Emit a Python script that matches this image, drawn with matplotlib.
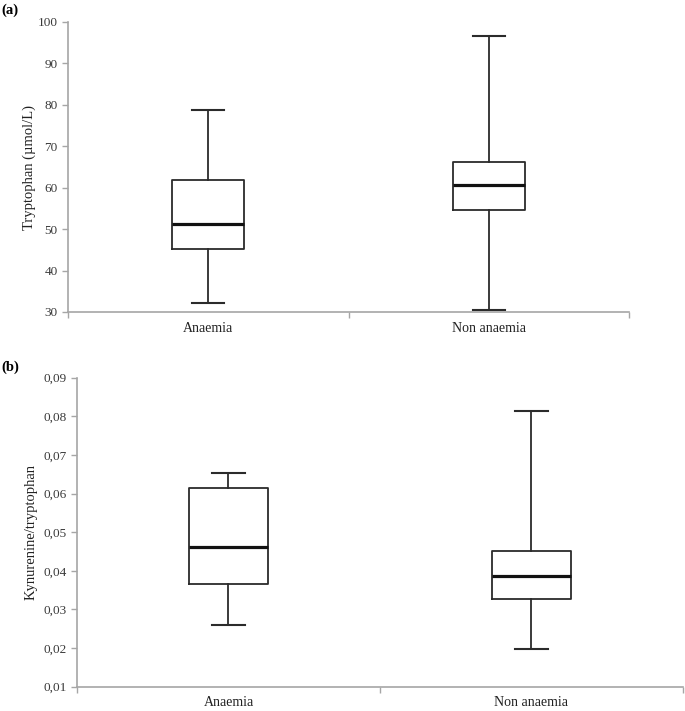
import matplotlib
matplotlib.use("Agg")
import matplotlib.pyplot as plt
from matplotlib.ticker import FixedLocator

plt.rcParams['font.family'] = ['Liberation Serif', 'DejaVu Serif']

categories = ["Anaemia", "Non anaemia"]

# Panel (a): Tryptophan (µmol/L)
trp_min = [32.1, 30.5]
trp_q1 = [45.1, 54.5]
trp_med = [51.3, 60.6]
trp_q3 = [61.8, 66.2]
trp_max = [78.8, 96.6]
trp_ticks = [30, 40, 50, 60, 70, 80, 90, 100]
trp_ticklabels = ["30", "40", "50", "60", "70", "80", "90", "100"]

# Panel (b): Kynurenine/tryptophan
kt_min = [0.0259, 0.0198]
kt_q1 = [0.0366, 0.0328]
kt_med = [0.0461, 0.0386]
kt_q3 = [0.0614, 0.0452]
kt_max = [0.0653, 0.0814]
kt_ticks = [0.01, 0.02, 0.03, 0.04, 0.05, 0.06, 0.07, 0.08, 0.09]
kt_ticklabels = ["0,01", "0,02", "0,03", "0,04", "0,05", "0,06", "0,07", "0,08", "0,09"]

W, H = 685, 711
fig = plt.figure(figsize=(W / 100, H / 100), dpi=100)

def px_axes(left, top, right, bottom):
    return fig.add_axes([left / W, 1 - bottom / H, (right - left) / W, (bottom - top) / H])

ax_a = px_axes(68, 22, 629, 312)
ax_b = px_axes(77, 377.7, 683, 686.7)

line_col = "#2b2b2b"
spine_col = "#a6a6a6"
text_col = "#3a3a3a"

def draw(ax, mins, q1s, meds, q3s, maxs, ticks, ticklabels, ylabel, ylim, boxw, capw, lpad):
    stats = []
    for i, c in enumerate(categories):
        stats.append(dict(label=c, whislo=mins[i], q1=q1s[i], med=meds[i],
                          q3=q3s[i], whishi=maxs[i], fliers=[]))
    ax.bxp(stats, positions=[0, 1], widths=boxw, showfliers=False,
           capwidths=capw,
           boxprops=dict(color=line_col, linewidth=1.3),
           whiskerprops=dict(color=line_col, linewidth=1.3),
           capprops=dict(color=line_col, linewidth=1.5),
           medianprops=dict(color="#111111", linewidth=2.3))
    ax.set_xlim(-0.5, 1.5)
    ax.set_ylim(*ylim)
    for s in ["top", "right"]:
        ax.spines[s].set_visible(False)
    for s in ["left", "bottom"]:
        ax.spines[s].set_color(spine_col)
        ax.spines[s].set_linewidth(1.2)
    ax.set_yticks(ticks)
    ax.set_yticklabels(ticklabels)
    ax.set_xticks([0, 1])
    ax.set_xticklabels(categories)
    ax.xaxis.set_minor_locator(FixedLocator([-0.5, 0.5, 1.5]))
    ax.tick_params(axis="x", which="major", length=0, pad=7, labelsize=10, labelcolor="#222222")
    ax.tick_params(axis="x", which="minor", length=4, color=spine_col, width=1.0, direction="out")
    ax.tick_params(axis="y", length=4, color=spine_col, width=1.0, pad=3.5,
                   labelsize=9.5, labelcolor=text_col, direction="out")
    ax.set_ylabel(ylabel, fontsize=10.5, color="#222222", labelpad=lpad)

draw(ax_a, trp_min, trp_q1, trp_med, trp_q3, trp_max, trp_ticks, trp_ticklabels,
     "Tryptophan (\u00b5mol/L)", (30, 100), 0.257, 0.114, 1)
draw(ax_b, kt_min, kt_q1, kt_med, kt_q3, kt_max, kt_ticks, kt_ticklabels,
     "Kynurenine/tryptophan", (0.01, 0.09), 0.259, 0.11, 4)

fig.text(1 / W, 1 - 10 / H, "(a)", fontsize=10.5, fontweight="bold", va="center", ha="left")
fig.text(1 / W, 1 - 367 / H, "(b)", fontsize=10.5, fontweight="bold", va="center", ha="left")

fig.savefig("out.png", dpi=100)
